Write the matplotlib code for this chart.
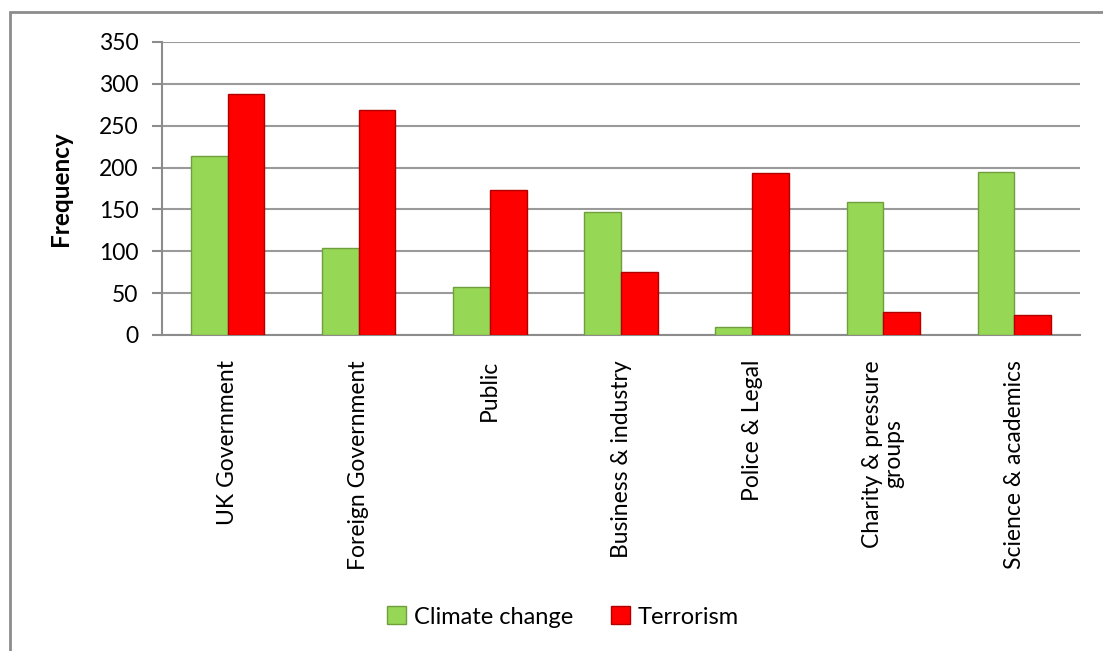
import numpy as np
import matplotlib.pyplot as plt
from matplotlib.patches import Rectangle

categories = ["UK Government", "Foreign Government", "Public", "Business & industry",
              "Police & Legal", "Charity & pressure\ngroups", "Science & academics"]
climate = [214, 104, 57, 147, 9, 159, 195]
terrorism = [288, 269, 173, 75, 194, 28, 24]

plt.rcParams['font.family'] = ['Lato', 'DejaVu Sans']

fig = plt.figure(figsize=(11.03, 6.51), dpi=100)
ax = fig.add_axes([162 / 1103, 1 - 335 / 651, (1080 - 162) / 1103, (335 - 42) / 651])

# outer chart border (runs off the right and bottom edges)
fig.patches.append(Rectangle((10 / 1103, -0.1), 1.2, 1 - 12 / 651 + 0.1,
                             transform=fig.transFigure, fill=False,
                             edgecolor='#8c8c8c', linewidth=2))

x = np.arange(len(categories))
w = 0.28
ax.bar(x - w / 2, climate, w, color='#96d755', edgecolor='#6f9e3c', linewidth=1,
       label='Climate change', zorder=3)
ax.bar(x + w / 2, terrorism, w, color='#ff0000', edgecolor='#b00000', linewidth=1,
       label='Terrorism', zorder=3)

ax.set_xlim(-0.5, len(categories) - 0.5)
ax.set_ylim(0, 350)
ax.set_yticks(range(0, 351, 50))
ax.yaxis.grid(True, color='#9a9a9a', linewidth=1.5, zorder=0)
ax.set_axisbelow(True)
for s in ['top', 'right']:
    ax.spines[s].set_visible(False)
ax.spines['left'].set_color('#8c8c8c')
ax.spines['bottom'].set_color('#8c8c8c')
ax.spines['left'].set_linewidth(1.5)
ax.spines['bottom'].set_linewidth(1.5)
ax.tick_params(axis='y', length=7, width=1.5, color='#8c8c8c', labelsize=16.5, pad=10)
ax.tick_params(axis='x', length=0, labelsize=16.5, pad=18)
ax.set_xticks(x)
ax.set_xticklabels(categories, rotation=90, va='top', ha='center', linespacing=1.0)
ax.set_ylabel('Frequency', fontsize=17.5, fontweight='bold')
ax.yaxis.set_label_coords(-90 / 918, 0.5)

fig.legend(loc='center', bbox_to_anchor=(563 / 1103, 1 - 617 / 651), ncol=2,
           frameon=False, fontsize=17, handlelength=0.8, handleheight=0.8,
           columnspacing=1.6, handletextpad=0.35)

fig.savefig('out.png', dpi=100)
